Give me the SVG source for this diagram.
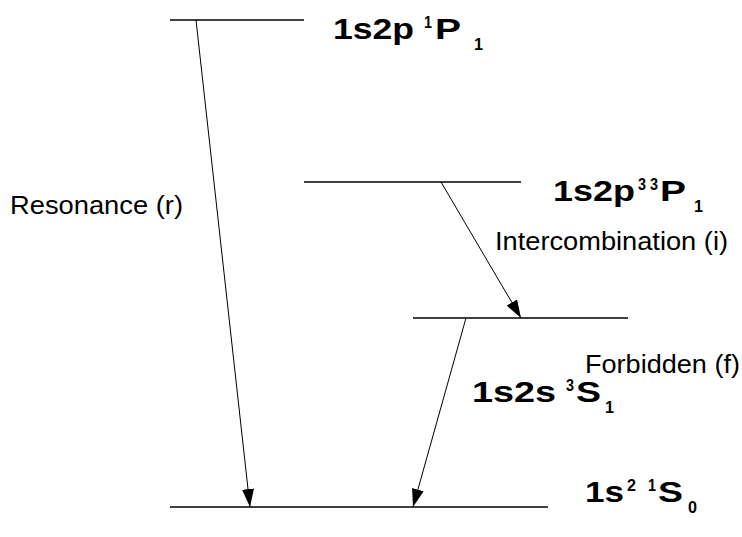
<svg xmlns="http://www.w3.org/2000/svg" width="742" height="537" viewBox="0 0 742 537">
<style>
.lvl{stroke:#000;stroke-width:1.3;fill:none}
.tr{stroke:#000;stroke-width:1;fill:none}
text{font-family:"Liberation Sans",Arial,sans-serif;fill:#000}
.r{font-size:25px}
.b{font-size:29px;font-weight:bold}
.s{font-size:16px;font-weight:bold}
</style>
<defs>
<marker id="ah" viewBox="0 0 18 12" refX="18" refY="6" markerWidth="18" markerHeight="12" markerUnits="userSpaceOnUse" orient="auto">
<path d="M0,0 L18,6 L0,12 Z" fill="#000"/>
</marker>
</defs>
<g id="level-1s2p-1P1">
<line class="lvl" x1="170" y1="20" x2="304" y2="20"/>
<text class="b" x="333" y="39" textLength="81" lengthAdjust="spacingAndGlyphs">1s2p</text>
<text class="s" x="424" y="28" textLength="8" lengthAdjust="spacingAndGlyphs">1</text>
<text class="b" x="435" y="39" textLength="26" lengthAdjust="spacingAndGlyphs">P</text>
<text class="s" x="474" y="50" textLength="9" lengthAdjust="spacingAndGlyphs">1</text>
</g>
<g id="level-1s2p-3P1">
<line class="lvl" x1="304" y1="182" x2="521" y2="182"/>
<text class="b" x="553" y="201" textLength="82" lengthAdjust="spacingAndGlyphs">1s2p</text>
<text class="s" x="638" y="190" textLength="8" lengthAdjust="spacingAndGlyphs">3</text>
<text class="s" x="650" y="190" textLength="8" lengthAdjust="spacingAndGlyphs">3</text>
<text class="b" x="660" y="201" textLength="26" lengthAdjust="spacingAndGlyphs">P</text>
<text class="s" x="694" y="212" textLength="9" lengthAdjust="spacingAndGlyphs">1</text>
</g>
<g id="level-1s2s-3S1">
<line class="lvl" x1="413" y1="318" x2="628" y2="318"/>
<text class="b" x="472" y="402" textLength="84" lengthAdjust="spacingAndGlyphs">1s2s</text>
<text class="s" x="566" y="391" textLength="8" lengthAdjust="spacingAndGlyphs">3</text>
<text class="b" x="576" y="402" textLength="25" lengthAdjust="spacingAndGlyphs">S</text>
<text class="s" x="605" y="413" textLength="9" lengthAdjust="spacingAndGlyphs">1</text>
</g>
<g id="level-1s2-1S0">
<line class="lvl" x1="170" y1="507" x2="548" y2="507"/>
<text class="b" x="585" y="502" textLength="39" lengthAdjust="spacingAndGlyphs">1s</text>
<text class="s" x="627" y="491" textLength="9" lengthAdjust="spacingAndGlyphs">2</text>
<text class="s" x="648" y="491" textLength="8" lengthAdjust="spacingAndGlyphs">1</text>
<text class="b" x="658" y="502" textLength="25" lengthAdjust="spacingAndGlyphs">S</text>
<text class="s" x="688" y="513" textLength="9" lengthAdjust="spacingAndGlyphs">0</text>
</g>
<g id="labels">
<text class="r" x="10" y="214" textLength="173" lengthAdjust="spacingAndGlyphs">Resonance (r)</text>
<text class="r" x="495" y="250" textLength="233" lengthAdjust="spacingAndGlyphs">Intercombination (i)</text>
<text class="r" x="585" y="373" textLength="155" lengthAdjust="spacingAndGlyphs">Forbidden (f)</text>
</g>
<g id="connectors">
<line class="tr" x1="196" y1="20" x2="250" y2="507" marker-end="url(#ah)"/>
<line class="tr" x1="441" y1="182" x2="521" y2="318" marker-end="url(#ah)"/>
<line class="tr" x1="466" y1="318" x2="413" y2="507" marker-end="url(#ah)"/>
</g>
</svg>
